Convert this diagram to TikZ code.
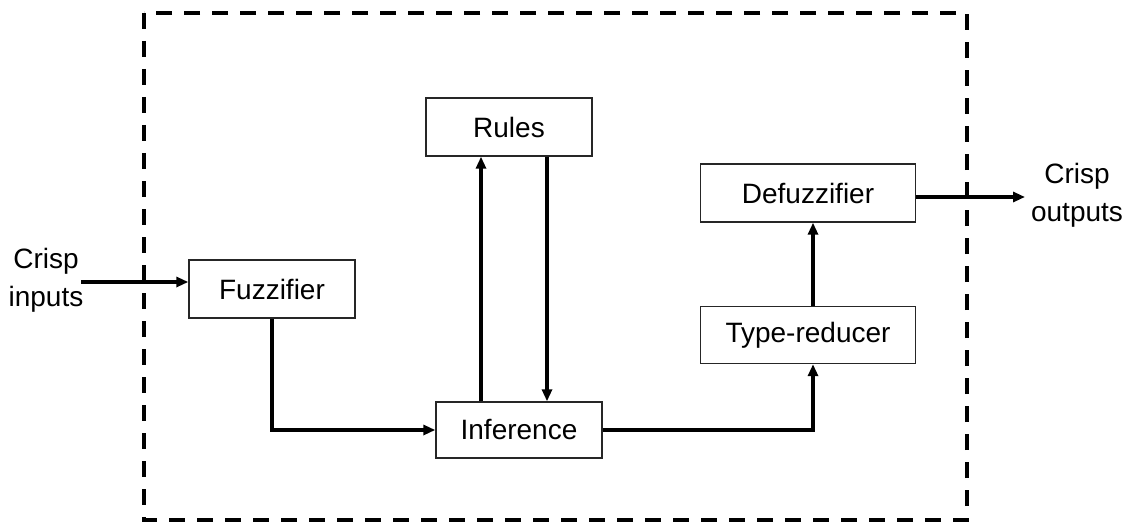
\documentclass[tikz,border=0pt]{standalone}
\usepackage{fontspec}
\setmainfont{Liberation Sans}
\usetikzlibrary{arrows.meta}

\begin{document}
\begin{tikzpicture}[x=1pt, y=-1pt, font=\fontsize{28}{38}\selectfont,
        block/.style={draw=black!85, line width=1.4pt, inner sep=0pt},
        flow/.style={line width=3.4pt, -{Triangle[length=12pt,width=10pt]}},
        frame/.style={line width=3.4pt, dash pattern=on 16pt off 12pt}]
                \useasboundingbox (0,0) rectangle (1127,524);

                \draw[frame] (144,13) rectangle (967,520);

                \node[block, minimum width=166pt, minimum height=58pt] (fuzz) at (272,289) {Fuzzifier};
                \node[block, minimum width=166pt, minimum height=58pt] (rules) at (509,127) {Rules};
                \node[block, minimum width=166pt, minimum height=56pt] (infer) at (519,430) {Inference};
                \node[block, minimum width=215pt, minimum height=58pt] (defuzz) at (808,193) {Defuzzifier};
                \node[block, minimum width=215pt, minimum height=57pt] (reduce) at (808,335) {Type-reducer};

                \node[align=center] (crispin) at (46,280) {Crisp\\inputs};
                \node[align=center] (crispout) at (1077,195) {Crisp\\outputs};

                \coordinate (upx) at (481,0);
                \coordinate (downx) at (547,0);
                \coordinate (risex) at (813,0);
                \coordinate (instart) at (81,282);
                \coordinate (outend) at (1025,197);

                \draw[flow] (instart) -- (fuzz.west |- instart);
                \draw[flow] (fuzz.south) |- (infer.west);
                \draw[flow] (infer.north -| upx) -- (rules.south -| upx);
                \draw[flow] (rules.south -| downx) -- (infer.north -| downx);
                \draw[flow] (infer.east) -| (reduce.south -| risex);
                \draw[flow] (reduce.north -| risex) -- (defuzz.south -| risex);
                \draw[flow] (defuzz.east |- outend) -- (outend);
            \end{tikzpicture}
\end{document}
